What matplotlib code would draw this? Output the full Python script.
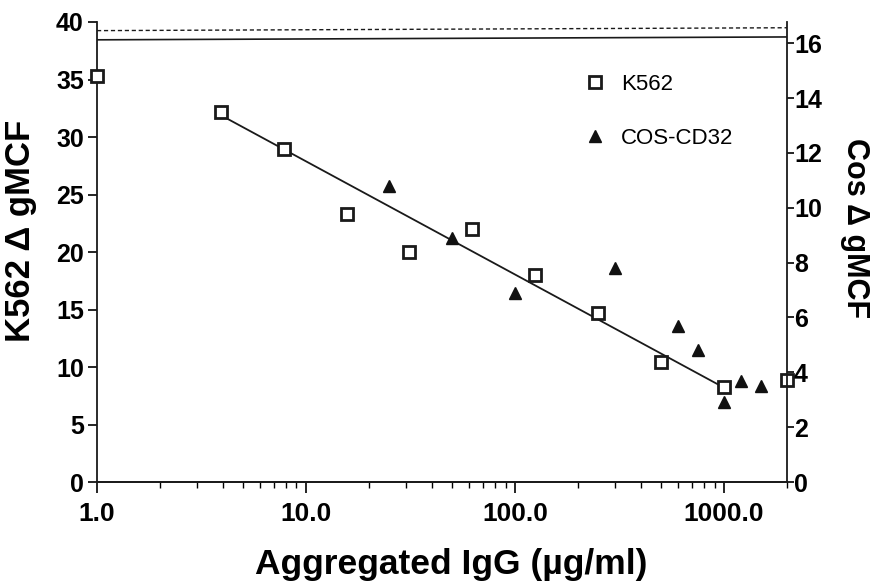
import numpy as np
import matplotlib
matplotlib.use("Agg")
import matplotlib.pyplot as plt
from matplotlib.ticker import FixedLocator, NullFormatter

plt.rcParams['font.family'] = ['Liberation Sans', 'DejaVu Sans']

# K562 squares (left axis)
k562_x = [1.0, 3.906, 7.8125, 15.625, 31.25, 62.5, 125, 250, 500, 1000, 2000]
k562_y = [35.3, 32.2, 29.0, 23.3, 20.0, 22.0, 18.0, 14.7, 10.4, 8.3, 8.9]

# COS-CD32 triangles (right axis)
cos_x = [25, 50, 100, 300, 600, 750, 1000, 1200, 1500]
cos_y = [10.8, 8.9, 6.9, 7.8, 5.7, 4.8, 2.9, 3.7, 3.5]

# regression line through K562 points
fit_x = [3.906, 1000]
fit_y = [31.9, 8.2]

# reference lines near the top
ref_x = [1.0, 2000]
ref_solid_y = [38.45, 38.7]
ref_dashed_y = [39.25, 39.5]

xticks = [1, 10, 100, 1000]
xticklabels = ['1.0', '10.0', '100.0', '1000.0']
left_ticks = [0, 5, 10, 15, 20, 25, 30, 35, 40]
right_ticks = [0, 2, 4, 6, 8, 10, 12, 14, 16]

fig = plt.figure(figsize=(8.71, 5.82), dpi=100)
ax = fig.add_axes([0.1114, 0.1718, 0.7922, 0.7904])
ax2 = ax.twinx()

ax.set_xscale('log')
ax.set_xlim(1, 2000)
ax.set_ylim(0, 40)
ax2.set_ylim(0, 40 / 2.385)

sq, = ax.plot(k562_x, k562_y, linestyle='none', marker='s', ms=9,
              mfc='white', mec='#1a1a1a', mew=2.0, clip_on=False, zorder=5)
ax.plot(fit_x, fit_y, color='#1a1a1a', lw=1.3, zorder=3)
ax.plot(ref_x, ref_solid_y, color='#1a1a1a', lw=1.2)
ax.plot(ref_x, ref_dashed_y, color='#1a1a1a', lw=1.0, dashes=(3, 2))
tri, = ax2.plot(cos_x, cos_y, linestyle='none', marker='^', ms=8,
                color='#111111', clip_on=False, zorder=5)

for a in (ax, ax2):
    a.spines['top'].set_visible(False)
    for s in a.spines.values():
        s.set_linewidth(1.3)
        s.set_color('#1a1a1a')
ax2.spines['left'].set_visible(False)
ax.spines['right'].set_visible(False)

ax.xaxis.set_major_locator(FixedLocator(xticks))
ax.set_xticklabels(xticklabels, fontsize=19, fontweight='bold')
ax.xaxis.set_minor_formatter(NullFormatter())
ax.tick_params(axis='x', which='major', direction='out', length=8, width=1.2, pad=6.5)
ax.tick_params(axis='x', which='minor', direction='out', length=4, width=1.0)

ax.set_yticks(left_ticks)
ax.set_yticklabels([str(v) for v in left_ticks], fontsize=18, fontweight='bold')
ax.tick_params(axis='y', direction='out', length=6.5, width=1.2, pad=3)

ax2.set_yticks(right_ticks)
ax2.set_yticklabels([str(v) for v in right_ticks], fontsize=18, fontweight='bold')
ax2.tick_params(axis='y', direction='out', length=5, width=1.2, pad=0)

ax.set_xlabel('Aggregated IgG (µg/ml)', fontsize=25.5, fontweight='bold')
ax.xaxis.set_label_coords(0.513, -0.1435)
ax.set_ylabel('K562 Δ gMCF', fontsize=25, fontweight='bold')
ax.yaxis.set_label_coords(-0.087, 0.546)
ax2.set_ylabel('Cos Δ gMCF', fontsize=22, fontweight='bold', rotation=270)
ax2.yaxis.set_label_coords(1.12, 0.552)

ax.legend([sq, tri], ['K562', 'COS-CD32'], loc='upper left',
          bbox_to_anchor=(0.677, 0.931), frameon=False, fontsize=16,
          handlelength=1.0, handletextpad=0.66, labelspacing=1.48,
          borderpad=0.4)

fig.savefig('out.png', dpi=100)
